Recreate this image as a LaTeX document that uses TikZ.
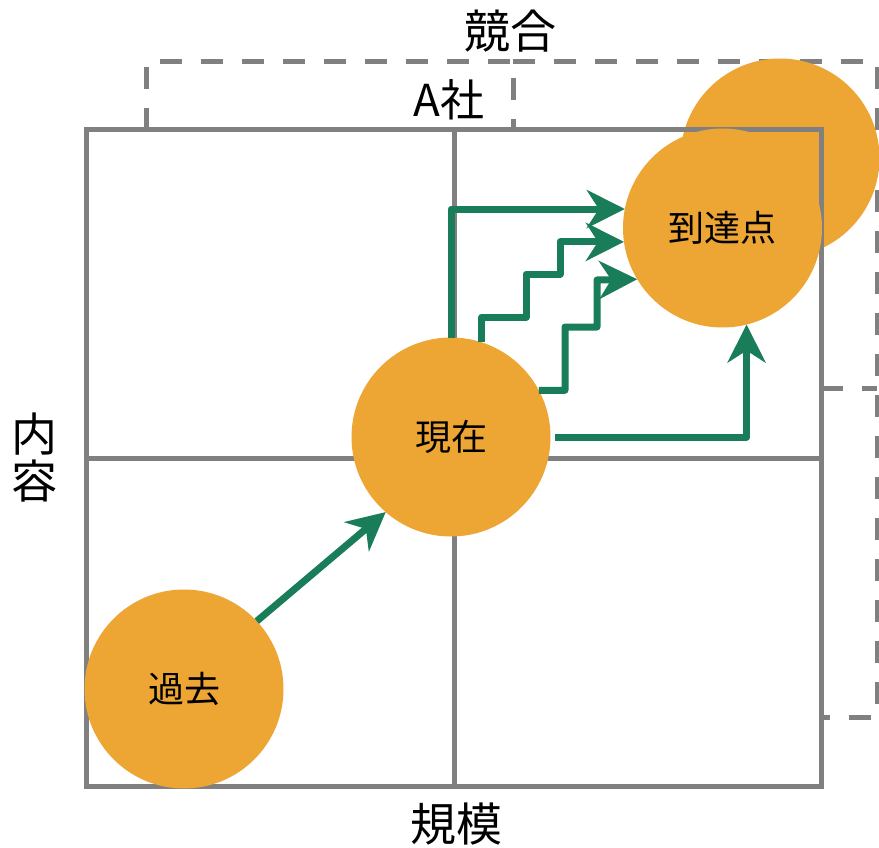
\documentclass[tikz,border=0pt]{standalone}
\usepackage{fontspec}
\setmainfont{Noto Sans CJK JP}
\usetikzlibrary{arrows.meta}
\definecolor{gridgray}{HTML}{808080}
\definecolor{circorange}{HTML}{EDA634}
\definecolor{arrowgreen}{HTML}{1A7D5A}
\begin{document}
\begin{tikzpicture}[x=1pt,y=-1pt,
  gridline/.style={draw=gridgray,line width=5pt},
  dashline/.style={draw=gridgray,line width=5pt,dash pattern=on 22pt off 19pt},
  blob/.style={circle,fill=circorange,minimum size=199pt,inner sep=0pt,outer sep=0pt,font=\fontsize{36}{36}\selectfont},
  flow/.style={draw=arrowgreen,line width=7pt,line join=round,-{Stealth[length=38pt,width=38pt,inset=12pt]}},
  lbl/.style={font=\fontsize{46}{47}\selectfont}]
\useasboundingbox (0,0) rectangle (879,848);
\fill[white] (0,0) rectangle (879,848);
% dashed outlines
\draw[dashline] (146,130) -- (146,62) -- (513,62) -- (513,130);
\draw[dashline] (513,62) -- (877,62) -- (877,717) -- (821,717);
\draw[dashline] (821,388) -- (877,388);
% competitor circle
\node[blob] (rival) at (780,158) {};
% grid
\draw[gridline] (86,130) rectangle (821,786);
\draw[gridline] (454,130) -- (454,786);
\draw[gridline] (86,458) -- (821,458);
% circles
\node[blob] (past) at (184,689) {過去};
\node[blob] (now) at (451,437) {現在};
\node[blob] (goal) at (722.5,228) {到達点};
% labels
\node[lbl] (rivallabel) at (510,31) {競合};
\node[font=\fontsize{44}{44}\selectfont] (alabel) at (449,100) {A社};
\node[lbl] (xlabel) at (456,824) {規模};
\node[lbl,align=center] (ylabel) at (35,458) {内\\容};
% arrows
\draw[flow] (past.43) -- (now.229);
\draw[flow] (now.north) |- (goal.169.6);
\draw[flow] (now.72) |- (526,317) |- (560,274) |- (goal.188.7);
\draw[flow] (now.28.7) -| (565,327) -| (597,280) -- (goal.211.5);
\draw[flow,shorten <=4pt] (now.east) -| (goal.284.3);
\end{tikzpicture}
\end{document}
